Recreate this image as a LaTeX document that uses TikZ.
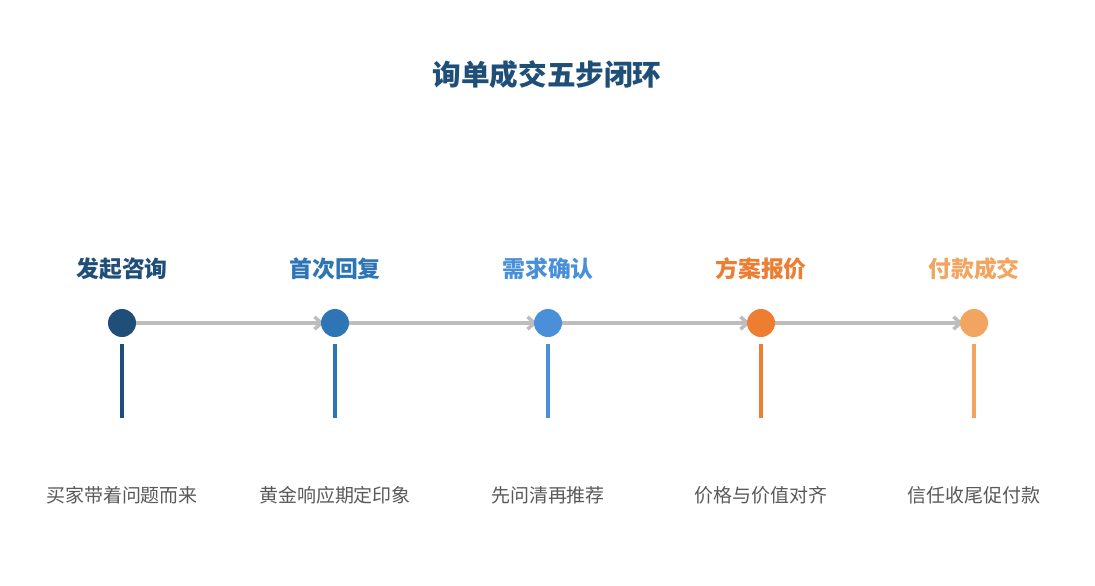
\documentclass[tikz,border=0pt]{standalone}
\usepackage{fontspec}
\newfontfamily\cjk{Noto Sans CJK SC}
\usetikzlibrary{arrows.meta,backgrounds}
\definecolor{navy}{HTML}{1F4E79}
\definecolor{midblue}{HTML}{2E75B6}
\definecolor{skyblue}{HTML}{4A90D9}
\definecolor{deeporange}{HTML}{ED7D31}
\definecolor{softorange}{HTML}{F2A561}
\definecolor{linkgray}{HTML}{BDBDBD}
\definecolor{textgray}{HTML}{595959}
\tikzset{
  dot/.style={circle,fill=#1,minimum size=0.56cm,inner sep=0pt},
  steptitle/.style={font=\cjk\bfseries\fontsize{13}{15}\selectfont,text=#1},
  stepnote/.style={font=\cjk\fontsize{10.8}{13}\selectfont,text=textgray},
  stem/.style={#1,line width=2.3pt},
  link/.style={linkgray,line width=2pt,-{Straight Barb[length=4pt,width=7pt]}}
}

\begin{document}
\begin{tikzpicture}[x=0.02cm,y=-0.02cm]
\useasboundingbox (0,0) rectangle (1095,585);
% Title
\node[font=\cjk\bfseries\fontsize{16.3}{19}\selectfont,text=navy] (title) at (547,75) {询单成交五步闭环};
% Step circles
\node[dot=navy] (c1) at (122,323) {};
\node[dot=midblue] (c2) at (335,323) {};
\node[dot=skyblue] (c3) at (548,323) {};
\node[dot=deeporange] (c4) at (761,323) {};
\node[dot=softorange] (c5) at (974,323) {};
% Step titles
\node[steptitle=navy] (t1) at (122,269) {发起咨询};
\node[steptitle=midblue] (t2) at (335,269) {首次回复};
\node[steptitle=skyblue] (t3) at (548,269) {需求确认};
\node[steptitle=deeporange] (t4) at (761,269) {方案报价};
\node[steptitle=softorange] (t5) at (974,269) {付款成交};
% Stem ends
\coordinate (s1) at (122,418);
\coordinate (s2) at (335,418);
\coordinate (s3) at (548,418);
\coordinate (s4) at (761,418);
\coordinate (s5) at (974,418);
% Stems
\draw[stem=navy] ([yshift=-0.14cm]c1.south) -- (s1);
\draw[stem=midblue] ([yshift=-0.14cm]c2.south) -- (s2);
\draw[stem=skyblue] ([yshift=-0.14cm]c3.south) -- (s3);
\draw[stem=deeporange] ([yshift=-0.14cm]c4.south) -- (s4);
\draw[stem=softorange] ([yshift=-0.14cm]c5.south) -- (s5);
% Notes
\node[stepnote] (n1) at (122,495) {买家带着问题而来};
\node[stepnote] (n2) at (335,495) {黄金响应期定印象};
\node[stepnote] (n3) at (548,495) {先问清再推荐};
\node[stepnote] (n4) at (761,495) {价格与价值对齐};
\node[stepnote] (n5) at (974,495) {信任收尾促付款};
% Links
\begin{scope}[on background layer]
\draw[link] (c1.center) -- ([xshift=2]c2.west);
\draw[link] (c2.center) -- ([xshift=2]c3.west);
\draw[link] (c3.center) -- ([xshift=2]c4.west);
\draw[link] (c4.center) -- ([xshift=2]c5.west);
\end{scope}
\end{tikzpicture}
\end{document}
